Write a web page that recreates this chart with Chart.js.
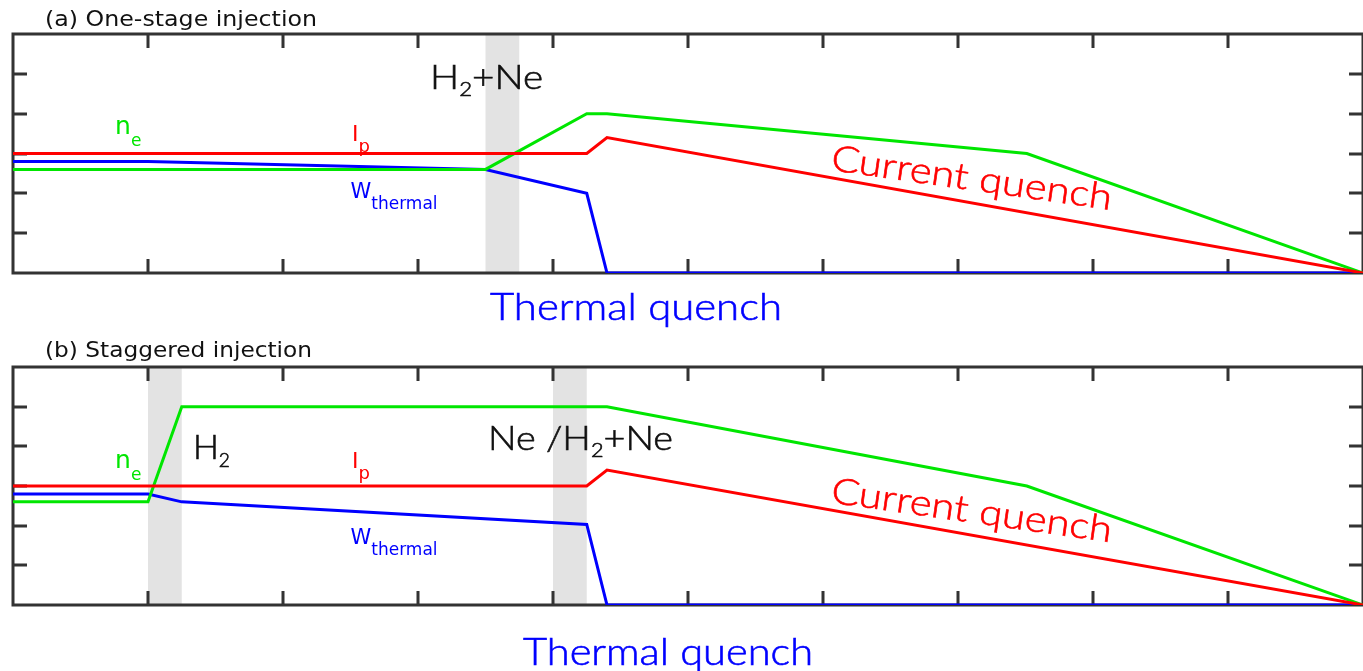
<!DOCTYPE html>
<html>
<head>
<meta charset="utf-8">
<script src="https://cdn.jsdelivr.net/npm/chart.js@4.4.1/dist/chart.umd.min.js"></script>
<style>
  html, body { margin: 0; padding: 0; background: #fff; overflow: hidden; }
  canvas { display: block; }
</style>
</head>
<body>
<canvas id="chartA" width="1363" height="335"></canvas>
<canvas id="chartB" width="1363" height="336"></canvas>
<script>
// time in arbitrary units (0..10), signal level in arbitrary units (0..6)
const xTickVals = [1, 2, 3, 4, 5, 6, 7, 8, 9];
const yTickVals = [1, 2, 3, 4, 5];

// (a) one-stage injection
const ipA_x = [0, 4.25, 4.4, 10];
const ipA_y = [3.0, 3.0, 3.4, 0];
const neA_x = [0, 3.5, 4.25, 4.4, 7.51, 10];
const neA_y = [2.6, 2.6, 4.0, 4.0, 3.0, 0];
const wA_x = [0, 1.0, 3.5, 4.25, 4.4, 10];
const wA_y = [2.8, 2.8, 2.6, 2.0, 0, 0];
const bandsA = [[3.5, 3.75]];

// (b) staggered injection
const ipB_x = [0, 4.25, 4.4, 10];
const ipB_y = [3.0, 3.0, 3.4, 0];
const neB_x = [0, 1.0, 1.25, 4.4, 7.51, 10];
const neB_y = [2.6, 2.6, 5.0, 5.0, 3.0, 0];
const wB_x = [0, 1.0, 1.25, 4.25, 4.4, 10];
const wB_y = [2.8, 2.8, 2.6, 2.03, 0, 0];
const bandsB = [[1.0, 1.25], [4.0, 4.25]];

const RED = '#ff0000', GREEN = '#00e600', BLUE = '#0000ff';
const BIG = 'Lato, "Open Sans", sans-serif';
const SMALL = '"DejaVu Sans", sans-serif';

const pts = (xs, ys) => xs.map((x, i) => ({ x, y: ys[i] }));

// draws text made of pieces (for subscripts), optionally squeezed to a width and rotated
function drawParts(ctx, lbl, px, py) {
  const weight = lbl.weight || 'normal';
  ctx.save();
  ctx.translate(px, py);
  if (lbl.angle) ctx.rotate(lbl.angle * Math.PI / 180);
  let total = 0;
  lbl.parts.forEach(p => {
    ctx.font = `${weight} ${p.size}px ${lbl.family}`;
    total += ctx.measureText(p.t).width;
  });
  if (lbl.width) ctx.scale(lbl.width / total, 1);
  ctx.fillStyle = lbl.color;
  ctx.strokeStyle = lbl.color;
  ctx.lineWidth = 0.6;
  ctx.textBaseline = 'alphabetic';
  let cx = 0;
  lbl.parts.forEach(p => {
    ctx.font = `${weight} ${p.size}px ${lbl.family}`;
    ctx.fillText(p.t, cx, p.dy || 0);
    if (lbl.weight) ctx.strokeText(p.t, cx, p.dy || 0); // thicken the light face a little
    cx += ctx.measureText(p.t).width;
  });
  ctx.restore();
}

const sketchPlugin = {
  id: 'sketch',
  beforeDatasetsDraw(chart, args, opts) {
    const { ctx, chartArea: a, scales: { x, y } } = chart;
    ctx.save();
    ctx.fillStyle = '#e3e3e3';
    opts.bands.forEach(([b0, b1]) => {
      const p0 = x.getPixelForValue(b0), p1 = x.getPixelForValue(b1);
      ctx.fillRect(p0, a.top, p1 - p0, a.bottom - a.top);
    });
    ctx.strokeStyle = '#333';
    ctx.lineWidth = 3;
    ctx.strokeRect(a.left, a.top, a.right - a.left, a.bottom - a.top);
    ctx.beginPath();
    xTickVals.forEach(v => {
      const px = Math.round(x.getPixelForValue(v));
      ctx.moveTo(px, a.top); ctx.lineTo(px, a.top + 14);
      ctx.moveTo(px, a.bottom); ctx.lineTo(px, a.bottom - 14);
    });
    yTickVals.forEach(v => {
      const py = Math.round(y.getPixelForValue(v));
      ctx.moveTo(a.left, py); ctx.lineTo(a.left + 14, py);
      ctx.moveTo(a.right, py); ctx.lineTo(a.right - 14, py);
    });
    ctx.stroke();
    ctx.restore();
  },
  afterDraw(chart, args, opts) {
    const { ctx, scales: { x, y } } = chart;
    drawParts(ctx, { parts: [{ t: opts.title, size: 21 }], family: SMALL, color: '#111', width: opts.titleWidth },
      45, opts.titleY);
    opts.labels.forEach(l => drawParts(ctx, l, x.getPixelForValue(l.x), y.getPixelForValue(l.y)));
  }
};

function smallLabels(neY, ipY, wY) {
  return [
    { x: 0.756, y: neY, family: SMALL, color: GREEN,
      parts: [{ t: 'n', size: 25 }, { t: 'e', size: 17, dy: 12 }] },
    { x: 2.511, y: ipY, family: SMALL, color: RED,
      parts: [{ t: 'I', size: 22 }, { t: 'p', size: 18, dy: 11 }] },
    { x: 2.5, y: wY, family: SMALL, color: BLUE,
      parts: [{ t: 'W', size: 21 }, { t: 'thermal', size: 17, dy: 11 }] }
  ];
}

function makeChart(id, series, padTop, padBottom, sketch) {
  const [ip, ne, w] = series;
  return new Chart(document.getElementById(id), {
    type: 'line',
    data: {
      datasets: [
        { label: 'Ip', data: ip, borderColor: RED },
        { label: 'ne', data: ne, borderColor: GREEN },
        { label: 'Wthermal', data: w, borderColor: BLUE }
      ].map(d => Object.assign(d, { borderWidth: 3, pointRadius: 0, tension: 0, fill: false }))
    },
    options: {
      responsive: false,
      animation: false,
      devicePixelRatio: 1,
      layout: { padding: { left: 13, right: 0, top: padTop, bottom: padBottom } },
      scales: {
        x: { type: 'linear', display: false, min: 0, max: 10 },
        y: { type: 'linear', display: false, min: 0, max: 6 }
      },
      plugins: { legend: { display: false }, tooltip: { enabled: false }, sketch }
    },
    plugins: [sketchPlugin]
  });
}

makeChart('chartA', [pts(ipA_x, ipA_y), pts(neA_x, neA_y), pts(wA_x, wA_y)], 34, 62, {
  title: '(a) One-stage injection', titleWidth: 272, titleY: 26,
  bands: bandsA,
  labels: [
    { x: 3.089, y: 4.62, family: BIG, weight: 300, color: '#111', width: 113,
      parts: [{ t: 'H', size: 33 }, { t: '2', size: 19, dy: 7 }, { t: '+Ne', size: 33 }] },
    ...smallLabels(3.49, 3.314, 1.883),
    { x: 6.052, y: 2.586, family: BIG, weight: 300, color: RED, width: 283, angle: 8.1,
      parts: [{ t: 'Current quench', size: 36 }] },
    { x: 3.533, y: -1.18, family: BIG, weight: 300, color: BLUE, width: 292,
      parts: [{ t: 'Thermal quench', size: 38 }] }
  ]
});

makeChart('chartB', [pts(ipB_x, ipB_y), pts(neB_x, neB_y), pts(wB_x, wB_y)], 32, 66, {
  title: '(b) Staggered injection', titleWidth: 267, titleY: 22,
  bands: bandsB,
  labels: [
    { x: 1.333, y: 3.69, family: BIG, weight: 300, color: '#111', width: 37,
      parts: [{ t: 'H', size: 34 }, { t: '2', size: 19, dy: 8 }] },
    { x: 3.519, y: 3.917, family: BIG, weight: 300, color: '#111', width: 185,
      parts: [{ t: 'Ne /H', size: 33 }, { t: '2', size: 19, dy: 7 }, { t: '+Ne', size: 33 }] },
    ...smallLabels(3.465, 3.465, 1.53),
    { x: 6.052, y: 2.586, family: BIG, weight: 300, color: RED, width: 283, angle: 8.1,
      parts: [{ t: 'Current quench', size: 36 }] },
    { x: 3.778, y: -1.506, family: BIG, weight: 300, color: BLUE, width: 290,
      parts: [{ t: 'Thermal quench', size: 38 }] }
  ]
});
</script>
</body>
</html>
